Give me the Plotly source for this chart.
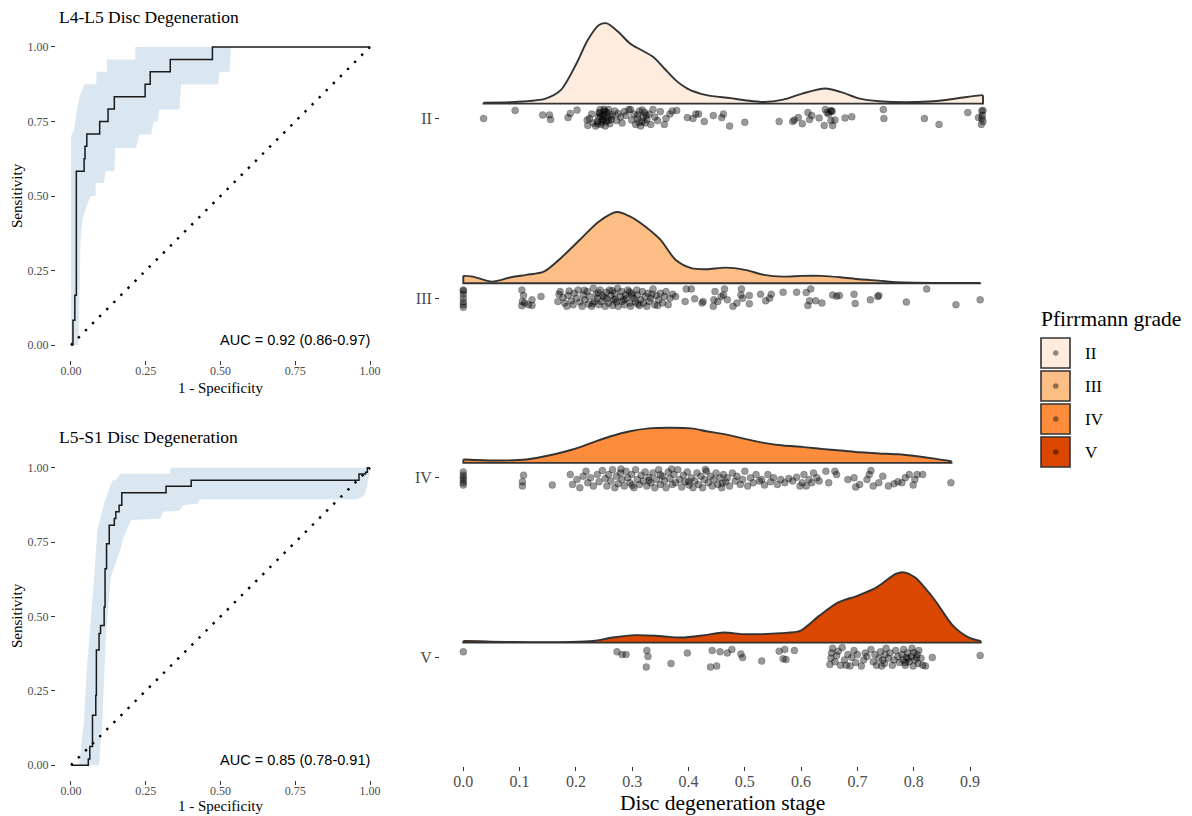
import plotly.graph_objects as go

# ---------------- ROC data ----------------
roc1_fpr = [0, 0.0067, 0.013, 0.018, 0.044, 0.047, 0.053, 0.096, 0.124, 0.145, 0.248, 0.265, 0.332, 0.473, 1.0]
roc1_tpr = [0, 0.083, 0.167, 0.583, 0.625, 0.667, 0.708, 0.75, 0.792, 0.833, 0.875, 0.917, 0.958, 1.0, 1.0]
roc1_ci_upper = [(0.0, 0.0), (0.0, 0.70), (0.01, 0.72), (0.02, 0.79), (0.03, 0.835), (0.045, 0.875), (0.085, 0.875),
                 (0.085, 0.917), (0.12, 0.917), (0.12, 0.958), (0.215, 0.958), (0.215, 1.0), (1.0, 1.0)]
roc1_ci_lower = [(0.025, 0.0), (0.028, 0.2), (0.032, 0.35), (0.038, 0.42), (0.05, 0.46), (0.066, 0.5), (0.083, 0.5),
                 (0.083, 0.544), (0.11, 0.544), (0.116, 0.583), (0.145, 0.583), (0.148, 0.661), (0.218, 0.661),
                 (0.228, 0.706), (0.268, 0.706), (0.276, 0.749), (0.29, 0.749), (0.296, 0.79), (0.363, 0.79),
                 (0.368, 0.874), (0.492, 0.874), (0.497, 0.917), (0.53, 0.917), (0.535, 1.0), (1.0, 1.0)]
roc1_title = "L4-L5 Disc Degeneration"
roc1_auc = "AUC = 0.92 (0.86-0.97)"

roc2_fpr = [0, 0.058, 0.063, 0.072, 0.083, 0.085, 0.094, 0.099, 0.111, 0.114, 0.119, 0.128, 0.145, 0.150, 0.161,
            0.170, 0.318, 0.402, 0.963, 0.985, 0.991, 1.0]
roc2_tpr = [0, 0.021, 0.063, 0.168, 0.235, 0.387, 0.443, 0.47, 0.532, 0.661, 0.745, 0.807, 0.83, 0.852, 0.874,
            0.916, 0.938, 0.958, 0.979, 0.985, 1.0, 1.0]
roc2_ci_upper = [(0.027, 0.0), (0.044, 0.151), (0.052, 0.308), (0.063, 0.443), (0.077, 0.622), (0.088, 0.79),
                 (0.111, 0.88), (0.139, 0.958), (0.15, 0.958), (0.165, 0.98), (0.33, 0.98), (0.335, 1.0), (1.0, 1.0)]
roc2_ci_lower = [(0.094, 0.0), (0.105, 0.15), (0.117, 0.44), (0.133, 0.633), (0.167, 0.73), (0.173, 0.757),
                 (0.2, 0.824), (0.3, 0.83), (0.307, 0.852), (0.363, 0.856), (0.374, 0.874), (0.425, 0.88),
                 (0.43, 0.894), (0.957, 0.894), (0.98, 0.907), (0.99, 0.936), (1.0, 1.0)]
roc2_title = "L5-S1 Disc Degeneration"
roc2_auc = "AUC = 0.85 (0.78-0.91)"

roc_ticks = [0, 0.25, 0.5, 0.75, 1.0]
roc_ticktext = ["0.00", "0.25", "0.50", "0.75", "1.00"]

# ---------------- Raincloud data ----------------
grades = ["II", "III", "IV", "V"]
grade_pos = [4, 3, 2, 1]
grade_colors = ["#FEEDDE", "#FDBE85", "#FD8D3C", "#D94701"]
stage_ticks = [0.0, 0.1, 0.2, 0.3, 0.4, 0.5, 0.6, 0.7, 0.8, 0.9]

dens_II = [(0.036, 0.05), (0.092, 0.08), (0.146, 0.25), (0.173, 0.67), (0.201, 2.0), (0.221, 3.17), (0.241, 3.92),
           (0.255, 4.0), (0.275, 3.58), (0.296, 3.0), (0.316, 2.67), (0.337, 2.33), (0.357, 1.75), (0.377, 1.17),
           (0.398, 0.75), (0.432, 0.42), (0.473, 0.28), (0.5, 0.17), (0.534, 0.08), (0.568, 0.2), (0.602, 0.5),
           (0.643, 0.75), (0.670, 0.58), (0.704, 0.25), (0.738, 0.12), (0.806, 0.08), (0.853, 0.17), (0.894, 0.33),
           (0.923, 0.42)]
dens_III = [(0.0, 0.37), (0.017, 0.33), (0.051, 0.08), (0.085, 0.3), (0.112, 0.42), (0.143, 0.58), (0.173, 1.25),
            (0.207, 2.17), (0.241, 3.08), (0.272, 3.55), (0.296, 3.33), (0.323, 2.83), (0.350, 2.17), (0.377, 1.17),
            (0.405, 0.75), (0.432, 0.7), (0.466, 0.78), (0.5, 0.67), (0.534, 0.42), (0.568, 0.33), (0.602, 0.37),
            (0.636, 0.37), (0.670, 0.3), (0.704, 0.2), (0.738, 0.13), (0.772, 0.05), (0.84, 0.02), (0.918, 0.02)]
dens_IV = [(0.0, 0.17), (0.058, 0.12), (0.112, 0.17), (0.160, 0.42), (0.194, 0.67), (0.228, 1.0), (0.262, 1.33),
           (0.296, 1.58), (0.330, 1.72), (0.364, 1.75), (0.405, 1.72), (0.432, 1.58), (0.466, 1.42), (0.5, 1.2),
           (0.534, 1.0), (0.568, 0.87), (0.602, 0.8), (0.636, 0.7), (0.670, 0.62), (0.704, 0.53), (0.738, 0.47),
           (0.772, 0.43), (0.806, 0.33), (0.84, 0.2), (0.867, 0.08)]
dens_V = [(0.0, 0.08), (0.088, 0.03), (0.19, 0.03), (0.231, 0.08), (0.265, 0.25), (0.306, 0.37), (0.347, 0.33),
          (0.388, 0.25), (0.428, 0.37), (0.462, 0.5), (0.496, 0.42), (0.53, 0.42), (0.564, 0.47), (0.598, 0.58),
          (0.632, 1.33), (0.666, 2.0), (0.70, 2.33), (0.734, 2.75), (0.768, 3.42), (0.782, 3.5), (0.802, 3.25),
          (0.836, 2.17), (0.87, 0.83), (0.898, 0.25), (0.919, 0.08)]

# points: (disc degeneration stage, jitter fraction)
pts_II = [(0.036, 0), (0.092, -0.82), (0.141, -0.36), (0.153, -0.36), (0.155, 0.09), (0.186, -0.09), (0.190, -0.52),
          (0.202, -0.85), (0.221, 0.70), (0.220, 0.15), (0.224, 0), (0.228, -0.45), (0.231, 0.45), (0.235, 0.76),
          (0.238, 0.30), (0.240, -0.15), (0.241, -0.60), (0.243, -0.91), (0.245, 0.60), (0.247, 0.15),
          (0.248, -0.30), (0.250, -0.76), (0.252, 0.76), (0.254, 0.30), (0.255, -0.09), (0.256, -0.55),
          (0.258, -0.91), (0.260, 0.52), (0.263, 0.09), (0.265, -0.39), (0.269, -0.76), (0.272, 0.21),
          (0.275, -0.52), (0.279, -0.15), (0.282, 0.45), (0.286, -0.70), (0.289, -0.30), (0.294, -0.91),
          (0.297, -0.91), (0.299, 0.15), (0.303, -0.45), (0.306, 0.60), (0.309, 0), (0.313, -0.76), (0.315, 0.76),
          (0.318, 0.30), (0.320, -0.15), (0.322, -0.60), (0.323, 0.45), (0.326, 0.09), (0.330, -0.45),
          (0.333, 0.60), (0.337, -0.91), (0.340, -0.15), (0.345, 0.21), (0.350, -0.70), (0.357, 0.60), (0.360, 0),
          (0.367, -0.45), (0.371, -0.76), (0.379, -0.82), (0.398, -0.09), (0.408, 0), (0.413, -0.45),
          (0.418, -0.45), (0.428, 0.30), (0.444, -0.30), (0.459, -0.09), (0.462, -0.45), (0.473, 0.76),
          (0.500, 0.39), (0.561, 0.30), (0.585, 0.30), (0.588, 0.15), (0.595, -0.09), (0.602, 0.52),
          (0.612, -0.60), (0.615, 0.09), (0.619, -0.30), (0.632, -0.06), (0.641, 0.70), (0.643, -0.91),
          (0.646, -0.60), (0.649, -0.45), (0.653, 0.21), (0.655, -0.70), (0.656, 0.70), (0.660, 0.15),
          (0.678, -0.06), (0.690, -0.18), (0.747, 0), (0.746, -0.91), (0.819, 0), (0.845, 0.60), (0.896, -0.60),
          (0.915, -0.09), (0.920, 0.60), (0.921, 0), (0.921, -0.76), (0.923, -0.82),
          (0.244, -0.2), (0.249, 0.1), (0.251, -0.45), (0.246, 0.35), (0.253, -0.7), (0.257, 0.2), (0.242, -0.5),
          (0.250, -0.95), (0.262, -0.2), (0.239, 0.55), (0.31, -0.35), (0.318, -0.85), (0.325, -0.3),
          (0.312, 0.4), (0.654, -0.8), (0.652, -0.75), (0.923, 0.3), (0.922, -0.3)]

pts_III = [(0.0, 0.93), (0.0, 0.67), (0.0, 0.4), (0.0, 0), (0.0, -0.4), (0.0, -0.73), (0.0, -0.83),
           (0.104, 0.77), (0.105, 0.33), (0.107, -0.27), (0.104, -0.83), (0.109, 0.5), (0.116, 0.67), (0.122, 0.73),
           (0.122, 0.17), (0.138, -0.17), (0.168, 0.33), (0.170, -0.4), (0.172, -0.67), (0.177, -0.07),
           (0.180, 0.5), (0.184, 0.83), (0.186, -0.27), (0.188, -0.73), (0.192, 0.27), (0.195, 0.67),
           (0.197, -0.5), (0.201, 0), (0.204, -0.83), (0.207, 0.4), (0.211, 0.83), (0.213, -0.33), (0.216, 0.17),
           (0.220, -0.67), (0.222, 0.6), (0.224, -0.17), (0.228, 0.83), (0.231, -1.0), (0.233, 0.33),
           (0.236, -0.4), (0.238, 0), (0.241, 0.67), (0.243, -0.83), (0.245, 0.33), (0.248, -0.27), (0.252, 0.83),
           (0.254, -0.6), (0.255, 0.07), (0.258, 0.5), (0.260, -0.83), (0.262, -0.27), (0.265, 0.73),
           (0.267, 0.17), (0.269, -0.5), (0.272, 0.4), (0.274, -1.0), (0.275, 0.83), (0.279, -0.17),
           (0.281, -0.67), (0.282, 0.33), (0.286, 0.67), (0.288, -0.33), (0.290, 0), (0.292, -0.83), (0.296, 0.5),
           (0.297, 0.83), (0.299, -0.5), (0.303, 0), (0.306, 0.4), (0.308, -0.83), (0.309, -0.33), (0.313, 0.73),
           (0.315, 0.17), (0.318, -0.67), (0.320, 0.5), (0.323, -0.17), (0.326, 0.83), (0.328, -0.5),
           (0.330, 0.33), (0.333, 0), (0.337, -0.93), (0.340, 0.67), (0.343, -0.27), (0.347, 0.17), (0.350, -0.5),
           (0.354, 0.5), (0.357, -0.17), (0.360, -0.67), (0.364, 0.67), (0.367, 0), (0.372, -0.4), (0.377, -0.17),
           (0.394, 0.33), (0.396, -0.93), (0.405, -0.93), (0.411, 0.07), (0.424, 0.5), (0.426, 0.33),
           (0.444, 0.83), (0.445, 0.17), (0.447, -0.67), (0.452, 0.33), (0.458, -0.17), (0.462, -0.33),
           (0.464, -0.93), (0.469, 0.17), (0.479, 0.83), (0.486, 0.5), (0.493, -0.33), (0.494, -0.93),
           (0.496, 0), (0.508, 0.57), (0.508, -0.27), (0.528, -0.4), (0.537, 0.27), (0.544, 0), (0.547, -0.4),
           (0.568, -0.6), (0.592, -0.6), (0.609, -0.57), (0.612, 0.73), (0.615, 0.27), (0.617, -0.93),
           (0.626, 0.27), (0.637, 0.5), (0.656, -0.33), (0.663, -0.2), (0.668, -0.27), (0.696, 0.53),
           (0.694, -0.4), (0.723, 0.17), (0.736, -0.17), (0.738, -0.27), (0.787, 0.4), (0.823, -0.93),
           (0.875, 0.67), (0.918, 0.17),
           (0.215, -0.8), (0.23, 0.55), (0.25, -0.1), (0.265, -0.75), (0.285, 0.15), (0.3, -0.25), (0.31, 0.6),
           (0.335, -0.4), (0.345, 0.75), (0.27, 0.1), (0.24, -0.55), (0.295, -0.65)]

pts_IV = [(0.0, 0.73), (0.0, 0.5), (0.0, 0.23), (0.0, 0), (0.0, -0.27), (0.0, -0.6),
          (0.105, 0.83), (0.105, 0.4), (0.107, -0.27), (0.158, 0.73),
          (0.190, -0.33), (0.194, 0.67), (0.202, 0.17), (0.207, 1.0), (0.213, -0.17), (0.218, -0.67), (0.221, 0.5),
          (0.226, 0), (0.231, 0.83), (0.238, -0.33), (0.241, 0.4), (0.247, -0.73), (0.252, 0.07), (0.255, 0.83),
          (0.258, -0.33), (0.262, 0.33), (0.265, -0.83), (0.269, 1.0), (0.272, -0.17), (0.275, 0.6),
          (0.279, -0.5), (0.282, 0.17), (0.286, 0.83), (0.289, -0.67), (0.292, 0), (0.296, 0.5), (0.299, -0.33),
          (0.303, 1.0), (0.306, -0.83), (0.309, 0.17), (0.313, 0.67), (0.316, -0.27), (0.320, 0.33),
          (0.323, -0.6), (0.326, 0.83), (0.330, -0.07), (0.333, 0.5), (0.337, -0.5), (0.340, 1.0), (0.343, 0.17),
          (0.347, -0.83), (0.350, 0.67), (0.354, -0.17), (0.357, 0.33), (0.360, 1.0), (0.364, -0.6),
          (0.367, 0.07), (0.371, 0.67), (0.374, -0.33), (0.377, 0.5), (0.381, -0.83), (0.384, 0.17),
          (0.388, 0.93), (0.391, -0.27), (0.394, 0.4), (0.398, -0.6), (0.401, 0.73), (0.405, 0), (0.408, 1.0),
          (0.411, 0.33), (0.415, -0.5), (0.418, 0.67), (0.422, -0.17), (0.425, 1.0), (0.428, 0.17),
          (0.432, -0.67), (0.435, 0.5), (0.439, -0.17), (0.442, 0.83), (0.445, 0.17), (0.449, -0.5),
          (0.452, 0.67), (0.456, 0), (0.459, 1.0), (0.462, -0.33), (0.466, 0.4), (0.469, 0), (0.473, 0.83),
          (0.478, -0.5), (0.483, 0.33), (0.486, -0.17), (0.492, 0.67), (0.496, 0.17), (0.500, -0.67),
          (0.505, 0.83), (0.510, 0), (0.515, 0.5), (0.520, -0.33), (0.526, 0.33), (0.530, 0.17), (0.535, 0.73),
          (0.541, -0.33), (0.546, 0.4), (0.551, 0), (0.558, 0.67), (0.564, 0.17), (0.571, 0.5), (0.578, 0.07),
          (0.585, 0.33), (0.592, -0.07), (0.598, 0.83), (0.602, 0.5), (0.605, -0.33), (0.609, 0.83),
          (0.614, 0.17), (0.619, 0.5), (0.622, -0.5), (0.628, 0), (0.632, 0.33), (0.644, -0.67), (0.649, 0.5),
          (0.660, -0.67), (0.663, -0.33), (0.683, 0.17), (0.694, 0), (0.697, 0.93), (0.704, 0.67), (0.717, 0.17),
          (0.721, -0.33), (0.724, -0.73), (0.728, 0.83), (0.738, 0.5), (0.745, -0.17), (0.755, 0.83),
          (0.765, 0.6), (0.772, 0.4), (0.779, 0.5), (0.785, 0), (0.792, -0.33), (0.799, 0.73), (0.802, 0.17),
          (0.806, -0.33), (0.816, -0.33), (0.866, 0.5),
          (0.28, -0.9), (0.33, 0.25), (0.37, -0.9), (0.4, 0.4), (0.43, -0.85), (0.46, 0.55), (0.35, -0.3),
          (0.3, 0.75)]

pts_V = [(0.0, -0.57), (0.273, -0.57), (0.282, -0.29), (0.289, -0.29), (0.325, 0.96), (0.328, -0.11),
         (0.326, -0.71), (0.369, 0.61), (0.398, -0.46), (0.439, 0.96), (0.442, -0.71), (0.450, 0.86),
         (0.456, -0.57), (0.469, -0.46), (0.477, -0.82), (0.493, -0.36), (0.496, 0), (0.530, 0.36),
         (0.561, -0.64), (0.568, 0.14), (0.573, 0.21), (0.571, -0.82), (0.588, -0.71), (0.651, 0.71),
         (0.653, 0.07), (0.654, -0.46), (0.656, -0.93), (0.660, 0.43), (0.663, -0.21), (0.666, -0.64),
         (0.670, 0.79), (0.673, -1.0), (0.677, 0.25), (0.680, 0.79), (0.683, -0.29), (0.687, 0.86), (0.690, 0),
         (0.694, -0.71), (0.697, 0.5), (0.700, -0.29), (0.707, 0.86), (0.711, 0.25), (0.714, -0.46),
         (0.717, -0.11), (0.724, -0.82), (0.728, 0.43), (0.731, -0.29), (0.734, 0.79), (0.738, 0.07),
         (0.741, -0.57), (0.743, 0.86), (0.745, 0.25), (0.748, 0.61), (0.749, -0.29), (0.751, -0.93),
         (0.755, 0.07), (0.758, -0.46), (0.762, 0.79), (0.765, 0.25), (0.768, -0.71), (0.772, -0.11),
         (0.775, 0.5), (0.779, -0.29), (0.781, 0.25), (0.782, -0.82), (0.785, 0.79), (0.787, 0), (0.789, -0.46),
         (0.792, 0.43), (0.796, -0.11), (0.797, -0.93), (0.799, 0.86), (0.802, 0.25), (0.806, -0.29),
         (0.808, 0.61), (0.809, -0.71), (0.813, 0.07), (0.816, 0.79), (0.821, 0.86), (0.833, 0), (0.918, -0.21),
         (0.79, 0.1), (0.8, -0.5), (0.785, 0.5), (0.805, 0.0)]

densities = [dens_II, dens_III, dens_IV, dens_V]
points = [pts_II, pts_III, pts_IV, pts_V]

# ---------------- styling constants ----------------
SERIF = "Liberation Serif"
SANS = "Liberation Sans"
GREY = "#4d4d4d"
DENS_SCALE = 0.1117   # category units per density unit
BASE_OFF = 0.083      # slab baseline above category centre
JIT = 0.055           # jitter half-height in category units
PAGE_OFF = 8          # default body margin of the html page
W, H = 1192 - PAGE_OFF, 816 - PAGE_OFF


def xp(px):
    """window pixel -> paper x"""
    return (px - PAGE_OFF) / W


def yp(py):
    """window pixel -> paper y"""
    return 1 - (py - PAGE_OFF) / H


fig = go.Figure()

# ---------------- ROC panels ----------------
def add_roc(fpr, tpr, up, lo, xa, ya):
    poly_x = [p[0] for p in up] + [p[0] for p in reversed(lo)]
    poly_y = [p[1] for p in up] + [p[1] for p in reversed(lo)]
    fig.add_trace(go.Scatter(x=poly_x, y=poly_y, fill="toself", mode="lines",
                             line=dict(width=0), fillcolor="rgba(70,130,180,0.2)",
                             xaxis=xa, yaxis=ya, showlegend=False, hoverinfo="skip"))
    fig.add_trace(go.Scatter(x=[0, 1], y=[0, 1], mode="lines",
                             line=dict(color="black", width=2.4, dash="2.4px,7.6px"),
                             xaxis=xa, yaxis=ya, showlegend=False, hoverinfo="skip"))
    fig.add_trace(go.Scatter(x=fpr, y=tpr, mode="lines", line=dict(color="#1a1a1a", width=1.5, shape="hv"),
                             xaxis=xa, yaxis=ya, showlegend=False))

add_roc(roc1_fpr, roc1_tpr, roc1_ci_upper, roc1_ci_lower, "x", "y")
add_roc(roc2_fpr, roc2_tpr, roc2_ci_upper, roc2_ci_lower, "x2", "y2")

# ---------------- raincloud panel ----------------
for g, pos, col, dens, pts in zip(grades, grade_pos, grade_colors, densities, points):
    base = pos + BASE_OFF
    dx = [d[0] for d in dens]
    dy = [base + d[1] * DENS_SCALE for d in dens]
    # smooth filled slab (top curve, closed straight along the baseline)
    fig.add_trace(go.Scatter(x=[dx[0]] + dx + [dx[-1]], y=[base] + dy + [base], fill="toself", fillcolor=col,
                             mode="lines", line=dict(width=0, shape="spline", smoothing=0.8),
                             xaxis="x3", yaxis="y3", showlegend=False, hoverinfo="skip"))
    # outline: smooth top curve + straight edges
    fig.add_trace(go.Scatter(x=dx, y=dy, mode="lines",
                             line=dict(color="#333333", width=1.9, shape="spline", smoothing=0.8),
                             xaxis="x3", yaxis="y3", showlegend=False, hoverinfo="skip"))
    fig.add_trace(go.Scatter(x=[dx[0], dx[0], dx[-1], dx[-1]], y=[dy[0], base, base, dy[-1]], mode="lines",
                             line=dict(color="#333333", width=1.9),
                             xaxis="x3", yaxis="y3", showlegend=False, hoverinfo="skip"))
    fig.add_trace(go.Scatter(x=[p[0] for p in pts], y=[pos - p[1] * JIT for p in pts], mode="markers",
                             marker=dict(size=7, color="rgba(0,0,0,0.4)",
                                         line=dict(width=0.6, color="rgba(0,0,0,0.3)")),
                             xaxis="x3", yaxis="y3", showlegend=False))

# ---------------- axes ----------------
roc_x = dict(range=[-0.05, 1.05], tickvals=roc_ticks, ticktext=roc_ticktext, showgrid=False, zeroline=False,
             showline=False, ticks="outside", ticklen=4, tickcolor="#333333",
             tickfont=dict(family=SERIF, size=12, color=GREY))
roc_y = dict(roc_x)

fig.update_layout(
    width=W, height=H, margin=dict(l=0, r=0, t=0, b=0),
    paper_bgcolor="white", plot_bgcolor="white", showlegend=False,
    xaxis=dict(roc_x, domain=[xp(56), xp(385)], anchor="y", ticklabelstandoff=-4),
    yaxis=dict(roc_y, domain=[yp(360), yp(32)], anchor="x"),
    xaxis2=dict(roc_x, domain=[xp(56), xp(385)], anchor="y2", ticklabelstandoff=-4),
    yaxis2=dict(roc_y, domain=[yp(780), yp(453)], anchor="x2"),
    xaxis3=dict(range=[-0.0414, 0.971], domain=[xp(440), xp(1010)], anchor="y3", tickvals=stage_ticks,
                ticktext=[f"{t:.1f}" for t in stage_ticks], showgrid=False, zeroline=False, showline=False,
                ticks="outside", ticklen=4, tickcolor="#333333", ticklabelstandoff=-3,
                tickfont=dict(family=SERIF, size=16, color=GREY)),
    yaxis3=dict(range=[0.396, 4.604], domain=[yp(766), yp(10)], anchor="x3", tickvals=grade_pos,
                ticktext=grades, showgrid=False, zeroline=False, showline=False, ticks="outside", ticklen=4,
                tickcolor="#333333", tickfont=dict(family=SERIF, size=16, color=GREY)),
)

ann = []
for title, auc, ytop, xr, yr, ycen, ybot in [(roc1_title, roc1_auc, 17, "x", "y", 196, 388),
                                             (roc2_title, roc2_auc, 437, "x2", "y2", 616, 806)]:
    ann.append(dict(text=title, x=xp(57), y=yp(ytop), xref="paper", yref="paper", xanchor="left",
                    yanchor="middle", showarrow=False, font=dict(family=SERIF, size=17.5, color="black")))
    ann.append(dict(text="Sensitivity", x=xp(17), y=yp(ycen), xref="paper", yref="paper", textangle=-90,
                    xanchor="center", yanchor="middle", showarrow=False,
                    font=dict(family=SERIF, size=15, color="black")))
    ann.append(dict(text="1 - Specificity", x=xp(220), y=yp(ybot), xref="paper", yref="paper",
                    xanchor="center", yanchor="middle", showarrow=False,
                    font=dict(family=SERIF, size=15, color="black")))
    ann.append(dict(text=auc, x=1.005, y=0.017, xref=xr, yref=yr, xanchor="right", yanchor="middle",
                    showarrow=False, font=dict(family=SANS, size=14.5, color="black")))

ann.append(dict(text="Disc degeneration stage", x=xp(722), y=yp(803), xref="paper", yref="paper",
                xanchor="center", yanchor="middle", showarrow=False,
                font=dict(family=SERIF, size=21.5, color="black")))

# legend (drawn manually to match ggplot key boxes)
ann.append(dict(text="Pfirrmann grade", x=xp(1039), y=yp(319), xref="paper", yref="paper", xanchor="left",
                yanchor="middle", showarrow=False, font=dict(family=SERIF, size=21.5, color="black")))
shapes = []
key_tops = [338, 371, 404, 437]
for g, col, top in zip(grades, grade_colors, key_tops):
    shapes.append(dict(type="rect", xref="paper", yref="paper", x0=xp(1041), x1=xp(1070),
                       y0=yp(top + 30), y1=yp(top), fillcolor=col,
                       line=dict(color="#333333", width=1.6)))
    cy = top + 15
    shapes.append(dict(type="circle", xref="paper", yref="paper", x0=xp(1053), x1=xp(1058.5),
                       y0=yp(cy + 2.75), y1=yp(cy - 2.75), fillcolor="rgba(0,0,0,0.43)",
                       line=dict(width=0)))
    ann.append(dict(text=g, x=xp(1083), y=yp(cy), xref="paper", yref="paper", xanchor="left",
                    yanchor="middle", showarrow=False, font=dict(family=SERIF, size=17, color="black")))

fig.update_layout(annotations=ann, shapes=shapes)
fig.write_html("out.html")
